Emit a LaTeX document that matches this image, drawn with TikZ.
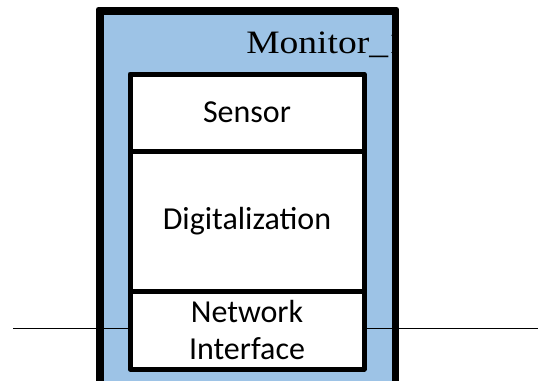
\documentclass[tikz,border=0pt]{standalone}
\usepackage{fontspec}
\setmainfont{Carlito}
\newfontfamily\titlefont[FakeStretch=1.15]{Liberation Serif}
\definecolor{panelblue}{RGB}{157,195,230}
\tikzset{
  border/.style={draw=black, line width=3.75pt, line join=round},
  panel/.style={border, fill=panelblue, inner sep=0pt,
    minimum width=219.75pt, minimum height=306pt},
  stage/.style={border, fill=white, inner sep=0pt, align=center,
    minimum width=175.5pt, font=\fontsize{24}{28}\selectfont},
  wire/.style={draw=black, line width=1.2pt}
}
\begin{document}
\begin{tikzpicture}[x=0.75pt, y=-0.75pt]
  \useasboundingbox (0,0) rectangle (538,380);
  % monitor enclosure, runs past the lower edge
  \node[panel] (mon) at (247.5,216) {};
  % title, cut off by the enclosure's right side
  \begin{scope}
    \clip (mon.south west) rectangle (mon.north east);
    \node[anchor=base west, inner sep=0pt,
      font=\titlefont\fontsize{24.5}{29}\selectfont] (title) at (246,53) {Monitor\_1};
  \end{scope}
  \draw[border] (mon.south west) rectangle (mon.north east);
  % network links on both sides
  \coordinate (lft) at (13,328.5);
  \coordinate (rgt) at (538,328.5);
  \draw[wire] (lft) -- (lft -| mon.west);
  \draw[wire] (lft -| mon.west) -- (lft -| mon.east);
  \draw[wire] (rgt -| mon.east) -- (rgt);
  % processing stages
  \node[stage, minimum height=57.75pt] (sensor) at (247,112.5) {Sensor};
  \node[stage, minimum height=105pt] (digit) at (247,221) {Digitalization};
  \node[stage, minimum height=58.5pt] (net) at (247,330) {Network\\Interface};
\end{tikzpicture}
\end{document}
